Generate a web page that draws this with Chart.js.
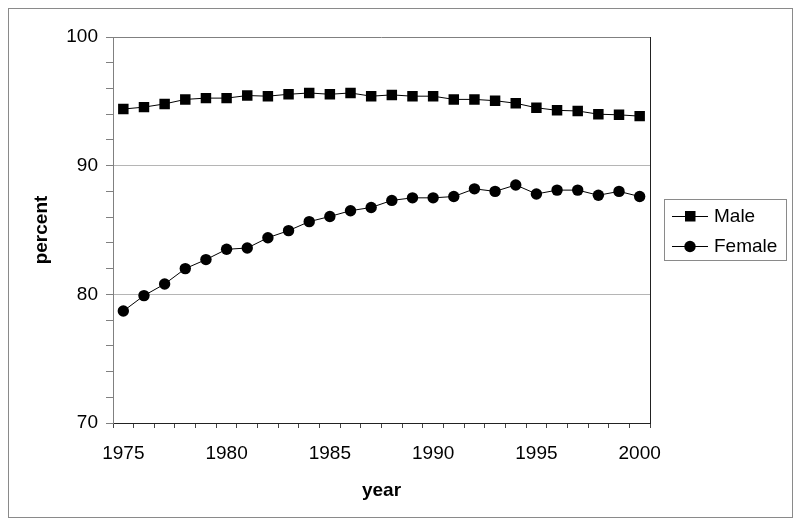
<!DOCTYPE html>
<html><head><meta charset="utf-8">
<script src="https://cdn.jsdelivr.net/npm/chart.js@4/dist/chart.umd.min.js"></script>
<style>html,body{margin:0;padding:0;background:#fff}#wrap{width:800px;height:527px}</style>
</head><body><div id="wrap"><canvas id="c" width="800" height="527"></canvas></div>
<script>
const years = [1975,1976,1977,1978,1979,1980,1981,1982,1983,1984,1985,1986,1987,1988,1989,1990,1991,1992,1993,1994,1995,1996,1997,1998,1999,2000];
const male = [94.4,94.55,94.8,95.15,95.25,95.25,95.45,95.4,95.55,95.65,95.55,95.65,95.4,95.5,95.4,95.4,95.15,95.15,95.05,94.85,94.5,94.3,94.25,94.0,93.95,93.85];
const female = [78.7,79.9,80.8,82.0,82.7,83.5,83.6,84.4,84.95,85.65,86.05,86.5,86.75,87.3,87.5,87.5,87.6,88.2,88.0,88.5,87.8,88.1,88.1,87.7,88.0,87.6];
const xTickLabels = ['1975','1980','1985','1990','1995','2000'];
const yTickLabels = [70,80,90,100];
const seriesNames = ['Male','Female'];

const FONT = "'Liberation Sans', Arial, sans-serif";

const framePlugin = {
  id: 'frame',
  beforeDraw(chart) {
    const ctx = chart.ctx;
    ctx.save();
    ctx.fillStyle = '#fff';
    ctx.fillRect(0, 0, chart.width, chart.height);
    ctx.strokeStyle = '#8a8a8a';
    ctx.lineWidth = 1;
    ctx.strokeRect(8.5, 8.5, 784, 509);
    ctx.restore();
  },
  afterDraw(chart) {
    const ctx = chart.ctx, a = chart.chartArea;
    ctx.save();
    ctx.lineWidth = 1;
    ctx.strokeStyle = '#808080';
    ctx.beginPath();
    ctx.moveTo(a.left, Math.round(a.top) + 0.5);
    ctx.lineTo(a.right, Math.round(a.top) + 0.5);
    ctx.stroke();
    ctx.strokeStyle = '#222';
    ctx.beginPath();
    ctx.moveTo(Math.round(a.right) + 0.5, a.top);
    ctx.lineTo(Math.round(a.right) + 0.5, a.bottom);
    ctx.stroke();

    // legend
    const lx = 664, ly = 199, lw = 122, lh = 61;
    ctx.strokeStyle = '#8a8a8a';
    ctx.strokeRect(lx + 0.5, ly + 0.5, lw, lh);
    const rows = [216, 246];
    chart.data.datasets.forEach((ds, i) => {
      const y = rows[i] + 0.5;
      ctx.strokeStyle = '#000';
      ctx.lineWidth = 1;
      ctx.beginPath();
      ctx.moveTo(672, y);
      ctx.lineTo(708, y);
      ctx.stroke();
      ctx.fillStyle = '#000';
      if (ds.pointStyle === 'rect') {
        ctx.fillRect(685, rows[i] - 5, 10.5, 10.5);
      } else {
        ctx.beginPath();
        ctx.arc(690, y, 5.7, 0, Math.PI * 2);
        ctx.fill();
      }
      ctx.font = "19px " + FONT;
      ctx.textBaseline = 'middle';
      ctx.textAlign = 'left';
      ctx.fillText(ds.label, 714, y);
    });
    ctx.restore();
  }
};

new Chart(document.getElementById('c'), {
  type: 'line',
  data: {
    labels: years.map(String),
    datasets: [
      { label: seriesNames[0], data: male, borderColor: '#000', borderWidth: 1, backgroundColor: '#000',
        pointStyle: 'rect', pointRadius: 7.4, pointBackgroundColor: '#000', pointBorderColor: '#000', pointBorderWidth: 0, tension: 0 },
      { label: seriesNames[1], data: female, borderColor: '#000', borderWidth: 1, backgroundColor: '#000',
        pointStyle: 'circle', pointRadius: 5.7, pointBackgroundColor: '#000', pointBorderColor: '#000', pointBorderWidth: 0, tension: 0 }
    ]
  },
  options: {
    responsive: false,
    animation: false,
    devicePixelRatio: 1,
    layout: { padding: { left: 0, right: 150, top: 37, bottom: 0 } },
    plugins: { legend: { display: false }, tooltip: { enabled: false } },
    scales: {
      x: {
        type: 'category',
        offset: true,
        grid: { offset: true, drawOnChartArea: false, drawTicks: true, tickLength: 5, tickColor: '#444' },
        border: { color: '#222', width: 1 },
        ticks: {
          autoSkip: false, maxRotation: 0, minRotation: 0, padding: 14, color: '#000',
          font: { family: FONT, size: 19 },
          callback: function(v, i) { const l = String(years[i]); return xTickLabels.includes(l) ? l : ''; }
        },
        title: { display: true, text: 'year', color: '#000', font: { family: FONT, size: 19, weight: 'bold' }, padding: { top: 4, bottom: 25 } },
        afterFit(scale) { scale.height = 104; }
      },
      y: {
        min: 70, max: 100,
        afterBuildTicks(scale) {
          const t = [];
          for (let v = 70; v <= 100; v += 2) t.push({ value: v });
          scale.ticks = t;
        },
        grid: {
          drawTicks: true, tickLength: 7, tickColor: '#808080',
          color: (c) => (c.tick && (c.tick.value === 80 || c.tick.value === 90)) ? '#b5b5b5' : 'rgba(0,0,0,0)'
        },
        border: { color: '#808080', width: 1 },
        ticks: {
          autoSkip: false, padding: 8, color: '#000', font: { family: FONT, size: 19 },
          callback: (v) => yTickLabels.includes(v) ? String(v) : ''
        },
        title: { display: true, text: 'percent', color: '#000', font: { family: FONT, size: 19, weight: 'bold' }, padding: { top: 30, bottom: 4 } },
        afterFit(scale) { scale.width = 113; }
      }
    }
  },
  plugins: [framePlugin]
});
</script>
</body></html>
